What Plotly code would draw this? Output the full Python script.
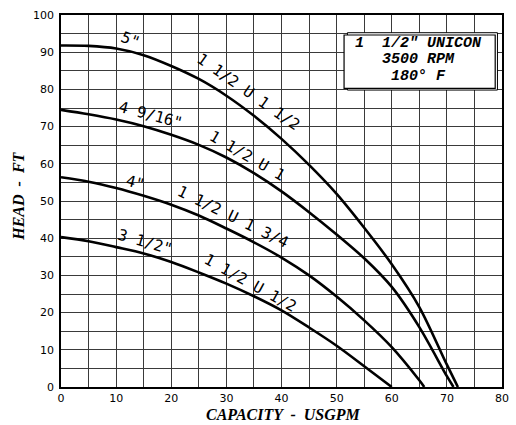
import plotly.graph_objects as go

# ---- data ----
x_5in = [0, 5, 10, 15, 20, 25, 30, 35, 40, 45, 50, 55, 60, 65, 70, 72]
h_5in = [91.8, 91.7, 91.0, 89.2, 86.3, 82.8, 78.3, 72.9, 66.7, 59.7, 51.9, 42.8, 33.0, 21.5, 6.0, 0]

x_4916 = [0, 5, 10, 15, 20, 25, 30, 35, 40, 45, 50, 55, 60, 65, 70, 71.2]
h_4916 = [74.5, 73.3, 71.9, 70.1, 67.8, 65.1, 61.7, 57.5, 52.6, 47.0, 41.0, 34.6, 26.9, 16.1, 2.9, 0]

x_4in = [0, 5, 10, 15, 20, 25, 30, 35, 40, 45, 50, 55, 60, 65, 65.9]
h_4in = [56.4, 55.2, 53.5, 51.4, 49.0, 46.1, 42.6, 38.9, 34.8, 30.0, 24.3, 17.9, 10.7, 1.8, 0]

x_312 = [0, 5, 10, 15, 20, 25, 30, 35, 40, 45, 50, 55, 60]
h_312 = [40.3, 39.2, 37.6, 35.9, 33.6, 30.8, 27.8, 24.4, 20.6, 16.0, 11.1, 5.6, 0]

impeller_labels = ['5"', '4 9/16"', '4"', '3 1/2"']
model_labels = ["1 1/2 U 1 1/2", "1 1/2 U 1", "1 1/2 U 1 3/4", "1 1/2 U 1/2"]

x_ticks = [0, 10, 20, 30, 40, 50, 60, 70, 80]
y_ticks = [0, 10, 20, 30, 40, 50, 60, 70, 80, 90, 100]

box_lines = ['1  1/2" UNICON', '3500 RPM', '180° F']

# ---- figure ----
fig = go.Figure()
for xs, ys in [(x_5in, h_5in), (x_4916, h_4916), (x_4in, h_4in), (x_312, h_312)]:
    fig.add_trace(go.Scatter(x=xs, y=ys, mode="lines",
                             line=dict(color="black", width=2.6, shape="spline", smoothing=0.9),
                             hoverinfo="skip", showlegend=False))

label_font = dict(family="DejaVu Sans Mono", size=15.5, color="black")
imp_pos = [(12.6, 93.3, 22), (16.2, 73.2, 15), (13.6, 54.8, 15), (15.2, 39.0, 16)]
for txt, (xx, yy, ang) in zip(impeller_labels, imp_pos):
    fig.add_annotation(x=xx, y=yy, text=txt, showarrow=False, textangle=ang,
                       font=label_font, borderpad=0)
mod_pos = [(34.0, 79.4, 35), (33.8, 62.0, 30), (31.2, 45.6, 26), (34.3, 28.0, 29)]
for txt, (xx, yy, ang) in zip(model_labels, mod_pos):
    fig.add_annotation(x=xx, y=yy, text=txt, showarrow=False, textangle=ang,
                       font=label_font, borderpad=0)

# info box (back + front rectangles)
fig.add_shape(type="rect", xref="paper", yref="paper",
              x0=(351.7 - 61) / 447.6, x1=(504 - 61) / 447.6,
              y0=(386.7 - 90) / 371.7, y1=(386.7 - 32.7) / 371.7,
              line=dict(color="black", width=1), fillcolor="white", layer="above")
fig.add_shape(type="rect", xref="paper", yref="paper",
              x0=(348.3 - 61) / 447.6, x1=(501.7 - 61) / 447.6,
              y0=(386.7 - 88.3) / 371.7, y1=(386.7 - 35) / 371.7,
              line=dict(color="black", width=1.2), fillcolor="white", layer="above")
box_font = dict(family="Liberation Mono", size=15, color="black", weight="bold", style="italic")
for txt, py in zip(box_lines, [42.5, 59.0, 76.0]):
    fig.add_annotation(xref="paper", yref="paper", x=(424 - 61) / 447.6,
                       y=(386.7 - py) / 371.7, text=txt, showarrow=False, height=14,
                       borderpad=0, xanchor="center", yanchor="middle", font=box_font)

title_font = dict(family="Liberation Serif", size=16, color="black", weight="bold", style="italic")
fig.add_annotation(xref="paper", yref="paper", x=(287 - 61) / 447.6, y=(386.7 - 414.5) / 371.7,
                   text="CAPACITY  -  USGPM", showarrow=False, xanchor="center",
                   yanchor="middle", font=title_font)
fig.add_annotation(xref="paper", yref="paper", x=(18 - 61) / 447.6, y=(386.7 - 196) / 371.7,
                   text="HEAD  -  FT", showarrow=False, textangle=-90, xanchor="center",
                   yanchor="middle", font=title_font)

grid_col = "#3a3a3a"
tick_font = dict(family="DejaVu Sans", size=11, color="black")
fig.update_xaxes(range=[x_ticks[0], x_ticks[-1]], tickmode="linear", tick0=x_ticks[0],
                 dtick=x_ticks[1] - x_ticks[0],
                 showgrid=True, gridcolor=grid_col, gridwidth=1.3,
                 minor=dict(dtick=(x_ticks[1] - x_ticks[0]) / 2, showgrid=True,
                            gridcolor=grid_col, gridwidth=1.3),
                 showline=True, linecolor="black", linewidth=1.5, mirror=True,
                 zeroline=False, ticks="", tickfont=tick_font)
fig.update_yaxes(range=[y_ticks[0], y_ticks[-1]], tickmode="linear", tick0=y_ticks[0],
                 dtick=y_ticks[1] - y_ticks[0],
                 showgrid=True, gridcolor=grid_col, gridwidth=1,
                 minor=dict(dtick=(y_ticks[1] - y_ticks[0]) / 2, showgrid=True,
                            gridcolor=grid_col, gridwidth=1),
                 showline=True, linecolor="black", linewidth=1.5, mirror=True,
                 zeroline=False, ticks="", tickfont=tick_font, ticklabelstandoff=3)

fig.update_layout(width=516, height=425, autosize=False,
                  margin=dict(l=61, r=7, t=15, b=38, pad=0),
                  paper_bgcolor="white", plot_bgcolor="white")

fig.write_html("out.html", config={"displayModeBar": False},
               post_script="document.body.style.margin='0px';")
